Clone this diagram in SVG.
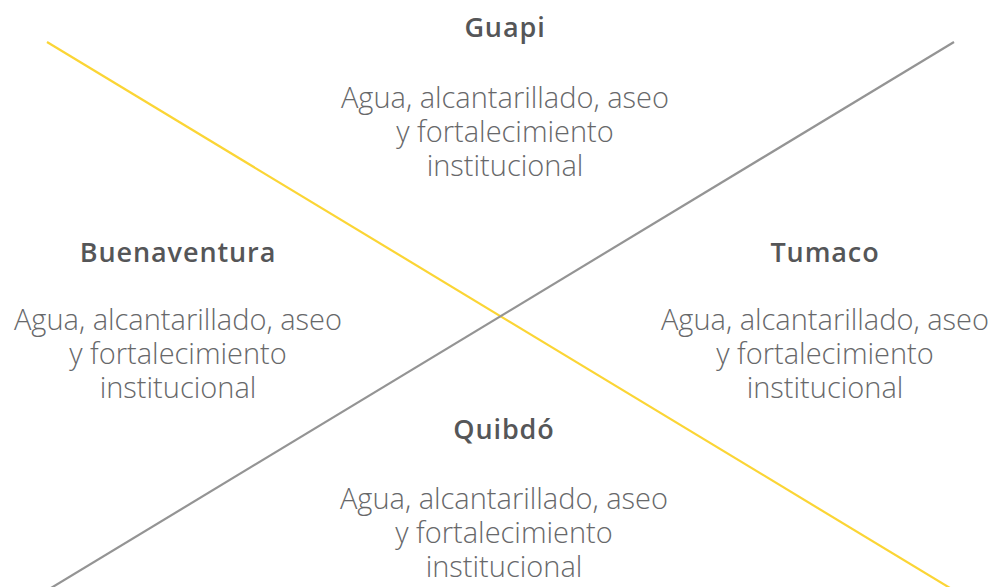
<svg xmlns="http://www.w3.org/2000/svg" width="997" height="587" viewBox="0 0 997 587">
  <style>
    .title { font-family: "Open Sans", Lato, "Liberation Sans", sans-serif; font-weight: 600; font-size: 27px; letter-spacing: 0.9px; fill: #555658; text-anchor: middle; }
    .body { font-family: "Open Sans", Lato, "Liberation Sans", sans-serif; font-weight: 300; font-size: 29px; fill: #67686a; text-anchor: middle; }
    .yellow { stroke: #FBD535; stroke-width: 2.2; fill: none; }
    .gray { stroke: #949494; stroke-width: 2.2; fill: none; }
  </style>
  <rect width="997" height="587" fill="#ffffff"/>
  <g id="connectors">
    <line class="yellow" x1="47" y1="42" x2="950" y2="588"/>
    <line class="gray" x1="954" y1="42" x2="51" y2="588"/>
  </g>
  <g id="guapi">
    <text class="title" x="505" y="37">Guapi</text>
    <text class="body" x="505" y="108">Agua, alcantarillado, aseo</text>
    <text class="body" x="505" y="142">y fortalecimiento</text>
    <text class="body" x="505" y="176">institucional</text>
  </g>
  <g id="buenaventura">
    <text class="title" x="178" y="262">Buenaventura</text>
    <text class="body" x="178" y="330">Agua, alcantarillado, aseo</text>
    <text class="body" x="178" y="364">y fortalecimiento</text>
    <text class="body" x="178" y="398">institucional</text>
  </g>
  <g id="tumaco">
    <text class="title" x="825" y="262">Tumaco</text>
    <text class="body" x="825" y="330">Agua, alcantarillado, aseo</text>
    <text class="body" x="825" y="364">y fortalecimiento</text>
    <text class="body" x="825" y="398">institucional</text>
  </g>
  <g id="quibdo">
    <text class="title" x="504" y="439">Quibdó</text>
    <text class="body" x="504" y="509">Agua, alcantarillado, aseo</text>
    <text class="body" x="504" y="543">y fortalecimiento</text>
    <text class="body" x="504" y="577">institucional</text>
  </g>
</svg>
